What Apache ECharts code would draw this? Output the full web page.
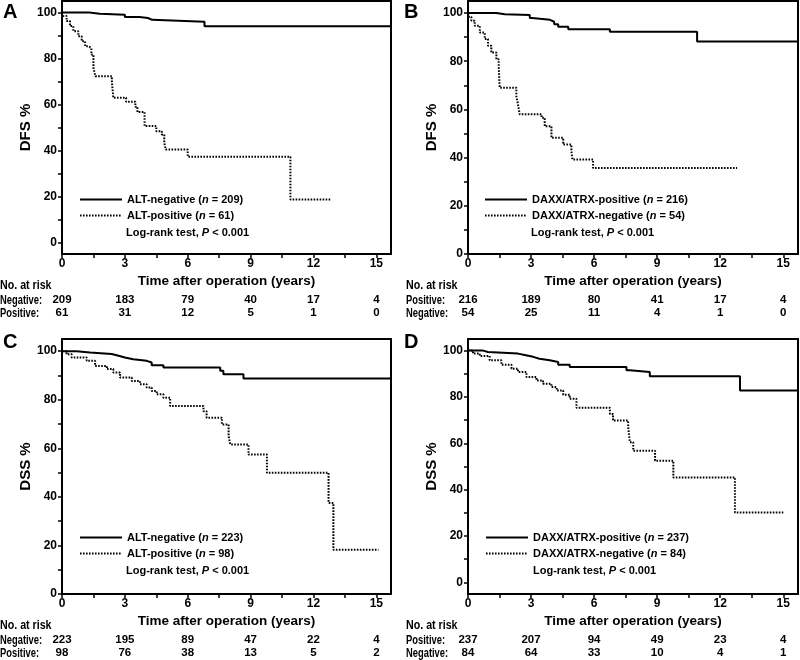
<!DOCTYPE html>
<html><head><meta charset="utf-8">
<script src="https://cdn.jsdelivr.net/npm/echarts@6/dist/echarts.min.js"></script>
<style>html,body{margin:0;padding:0;background:#fff}#c{width:800px;height:660px}</style>
</head><body><div id="c"></div>
<script>
// ---------- data ----------
const xTickValues = [0, 1.5, 3, 4.5, 6, 7.5, 9, 10.5, 12, 13.5, 15];
const xLabelValues = [0, 3, 6, 9, 12, 15];
const yTickValues = [0, 10, 20, 30, 40, 50, 60, 70, 80, 90, 100];
const yLabelValues = [0, 20, 40, 60, 80, 100];

// Panel A (DFS, ALT)
const aNegT = [0, 1.3, 1.8, 3.0, 3.7, 4.1, 4.3, 6.8, 15.7];
const aNegV = [100, 99.5, 99, 98, 97.6, 96.8, 96, 94, 94];
const aPosT = [0, 0.06, 0.22, 0.38, 0.54, 0.78, 0.94, 1.1, 1.26, 1.4, 1.5, 1.59, 2.38, 2.45, 3.06, 3.5, 3.6, 3.94, 4.5, 4.76, 4.88, 4.95, 6.0, 10.9, 12.8];
const aPosV = [100, 98.5, 96.3, 94.1, 91.9, 89.7, 87.5, 85.3, 84.6, 81.7, 76, 72.3, 70.1, 62.9, 61.2, 59, 56.7, 50.6, 48.4, 47, 43.3, 40.4, 37.3, 18.7, 18.7];
// Panel B (DFS, DAXX/ATRX)
const bPosT = [0, 1.35, 1.75, 2.94, 3.05, 3.9, 4.1, 4.29, 4.77, 6.75, 10.9, 15.7];
const bPosV = [100, 99.5, 99.2, 97.9, 97.2, 96.4, 95.4, 94.3, 93.3, 92.2, 88.2, 88.2];
const bNegT = [0, 0.05, 0.16, 0.32, 0.56, 0.8, 0.95, 1.11, 1.35, 1.46, 1.51, 2.3, 2.38, 2.46, 3.5, 3.65, 3.97, 4.53, 4.92, 4.97, 5.95, 12.8];
const bNegV = [100, 98.5, 96.8, 94.7, 91.9, 89.2, 86.4, 83.6, 80.8, 78, 69, 65.5, 62, 58, 56.5, 53, 48.2, 45.4, 42.6, 39.2, 35.7, 35.7];
// Panel C (DSS, ALT)
const cNegT = [0, 0.7, 1.34, 2.37, 2.7, 3.0, 3.4, 4.04, 4.28, 4.84, 7.55, 7.7, 8.66, 15.7];
const cNegV = [100, 99.4, 98.8, 98.1, 97.4, 96.7, 96, 95.3, 94.2, 93.3, 91.9, 90.5, 88.7, 88.7];
const cPosT = [0, 0.22, 0.46, 1.18, 1.58, 2.14, 2.45, 2.77, 3.33, 3.72, 4.04, 4.28, 4.52, 4.84, 5.16, 6.75, 6.9, 7.63, 7.95, 8.03, 8.9, 9.78, 12.72, 12.95, 15.1];
const cPosV = [100, 98.7, 97.4, 96, 93.9, 92.6, 91.2, 89.1, 87.7, 86.4, 85, 83.6, 82.2, 80.8, 77.4, 75.3, 72.6, 69.8, 65, 61.6, 57.4, 49.9, 37.5, 18.2, 18.2];
// Panel D (DSS, DAXX/ATRX)
const dPosT = [0, 0.72, 0.95, 2.38, 2.75, 3.1, 3.4, 3.89, 4.29, 4.84, 7.54, 7.7, 8.65, 12.94, 15.7];
const dPosV = [100, 99.4, 98.7, 98, 97.3, 96.5, 95.8, 95.1, 93.9, 92.9, 91.5, 90.8, 88.9, 82.8, 82.8];
const dNegT = [0, 0.24, 0.56, 1.03, 1.59, 2.07, 2.38, 2.78, 3.26, 3.57, 3.97, 4.22, 4.53, 4.84, 5.16, 6.75, 6.9, 7.62, 7.7, 7.86, 8.9, 9.77, 12.7, 15.0];
const dNegV = [100, 98.7, 97.7, 95.8, 93.9, 92.2, 90.8, 88.6, 87.1, 85.7, 84.3, 82.8, 81, 79.2, 75.3, 72.7, 69.8, 67, 60.5, 56.8, 52.5, 45.3, 30.2, 30.2];

// numbers at risk (at 0,3,6,9,12,15 years)
const riskANeg = [209, 183, 79, 40, 17, 4];
const riskAPos = [61, 31, 12, 5, 1, 0];
const riskBPos = [216, 189, 80, 41, 17, 4];
const riskBNeg = [54, 25, 11, 4, 1, 0];
const riskCNeg = [223, 195, 89, 47, 22, 4];
const riskCPos = [98, 76, 38, 13, 5, 2];
const riskDPos = [237, 207, 94, 49, 23, 4];
const riskDNeg = [84, 64, 33, 10, 4, 1];

// ---------- layout ----------
const FONT = "'Liberation Sans',Arial,sans-serif";
const XMAX = 15.7;

const panels = [
  { letter: 'A', grid: {left: 62, top: 1, width: 329, height: 253}, ymin: -5, yName: 'DFS %',
    names: ['ALT-negative (n = 209)', 'ALT-positive (n = 61)'],
    curves: [[aNegT, aNegV], [aPosT, aPosV]], rowNames: ['Negative:', 'Positive:'], risk: [riskANeg, riskAPos],
    legendLeft: 79, textX: 126, tableX: 0, legendTop: 194, letterX: 3, letterY: 12 },
  { letter: 'B', grid: {left: 468, top: 1, width: 330, height: 253}, ymin: 0, yName: 'DFS %',
    names: ['DAXX/ATRX-positive (n = 216)', 'DAXX/ATRX-negative (n = 54)'],
    curves: [[bPosT, bPosV], [bNegT, bNegV]], rowNames: ['Positive:', 'Negative:'], risk: [riskBPos, riskBNeg],
    legendLeft: 484, textX: 531, tableX: 406, legendTop: 194, letterX: 404, letterY: 12 },
  { letter: 'C', grid: {left: 62, top: 339, width: 329, height: 255}, ymin: 0, yName: 'DSS %',
    names: ['ALT-negative (n = 223)', 'ALT-positive (n = 98)'],
    curves: [[cNegT, cNegV], [cPosT, cPosV]], rowNames: ['Negative:', 'Positive:'], risk: [riskCNeg, riskCPos],
    legendLeft: 79, textX: 126, tableX: 0, legendTop: 532, letterX: 3, letterY: 342 },
  { letter: 'D', grid: {left: 468, top: 339, width: 330, height: 255}, ymin: -5, yName: 'DSS %',
    names: ['DAXX/ATRX-positive (n = 237)', 'DAXX/ATRX-negative (n = 84)'],
    curves: [[dPosT, dPosV], [dNegT, dNegV]], rowNames: ['Positive:', 'Negative:'], risk: [riskDPos, riskDNeg],
    legendLeft: 485, textX: 533, tableX: 406, legendTop: 532, letterX: 404, letterY: 342 }
];

const grids = [], xAxes = [], yAxes = [], series = [], legends = [], graphics = [];
const lineSolid = {color: '#000', width: 2, type: 'solid'};
const lineDot = {color: '#000', width: 2, type: [1.6, 1.4]};

panels.forEach((p, pi) => {
  grids.push(Object.assign({containLabel: false}, p.grid));
  const axisLine = {show: true, onZero: false, lineStyle: {color: '#000', width: 2}};
  xAxes.push({
    gridIndex: pi, type: 'value', min: 0, max: XMAX, position: 'bottom',
    axisLine: axisLine,
    axisTick: {show: true, length: 4, customValues: xTickValues, lineStyle: {color: '#000', width: 1.5}},
    axisLabel: {customValues: xLabelValues, margin: 4, color: '#000', fontFamily: FONT, fontWeight: 'bold', fontSize: 12},
    splitLine: {show: false},
    name: 'Time after operation (years)', nameLocation: 'middle', nameGap: 20,
    nameTextStyle: {color: '#000', fontFamily: FONT, fontWeight: 'bold', fontSize: 13.5}
  });
  xAxes.push({
    gridIndex: pi, type: 'value', min: 0, max: XMAX, position: 'top',
    axisLine: axisLine, axisTick: {show: false}, axisLabel: {show: false}, splitLine: {show: false}
  });
  [34, 47].forEach((off, ri) => {
    const arr = p.risk[ri];
    xAxes.push({
      gridIndex: pi, type: 'value', min: 0, max: XMAX, position: 'bottom', offset: off,
      axisLine: {show: false}, axisTick: {show: false}, splitLine: {show: false},
      axisLabel: {customValues: xLabelValues, margin: 6, color: '#000', fontFamily: FONT, fontWeight: 'bold', fontSize: 11.5,
        formatter: v => { const k = Math.round(v / 3); return String(arr[k]); }}
    });
  });
  yAxes.push({
    gridIndex: pi, type: 'value', min: p.ymin, max: 105, position: 'left',
    axisLine: axisLine,
    axisTick: {show: true, length: 4, customValues: yTickValues, lineStyle: {color: '#000', width: 1.5}},
    axisLabel: {customValues: yLabelValues, margin: 5, color: '#000', fontFamily: FONT, fontWeight: 'bold', fontSize: 12},
    splitLine: {show: false},
    name: p.yName, nameLocation: 'middle', nameGap: 22,
    nameTextStyle: {color: '#000', fontFamily: FONT, fontWeight: 'bold', fontSize: 15}
  });
  yAxes.push({
    gridIndex: pi, type: 'value', min: p.ymin, max: 105, position: 'right',
    axisLine: axisLine, axisTick: {show: false}, axisLabel: {show: false}, splitLine: {show: false}
  });

  p.curves.forEach((c, ci) => {
    series.push({
      name: p.names[ci], type: 'line', xAxisIndex: pi * 4, yAxisIndex: pi * 2,
      data: c[0].map((t, i) => [t, c[1][i]]),
      step: 'end', symbol: 'none', showSymbol: false, clip: true,
      lineStyle: ci === 0 ? lineSolid : lineDot, itemStyle: {color: '#000'},
      animation: false, silent: true
    });
  });

  const rich = {i: {fontStyle: 'italic', fontWeight: 'bold', fontSize: 11, fontFamily: FONT, color: '#000'}};
  legends.push({
    data: p.names, orient: 'vertical', left: p.legendLeft, top: p.legendTop, padding: 0,
    itemWidth: 42, itemHeight: 12, itemGap: 5, selectedMode: false,
    itemStyle: {color: 'rgba(0,0,0,0)', opacity: 0, borderWidth: 0},
    textStyle: {color: '#000', fontFamily: FONT, fontWeight: 'bold', fontSize: 11, rich: rich},
    formatter: name => name.replace('(n =', '({i|n} =')
  });

  graphics.push({
    type: 'text', x: p.textX, y: p.legendTop + 39, silent: true,
    style: {text: 'Log-rank test, {i|P} < 0.001', fill: '#000', fontFamily: FONT, fontWeight: 'bold', fontSize: 11,
      verticalAlign: 'middle', rich: rich}
  });
  graphics.push({
    type: 'text', x: p.letterX, y: p.letterY, silent: true,
    style: {text: p.letter, fill: '#000', fontFamily: FONT, fontWeight: 'bold', fontSize: 20, verticalAlign: 'middle'}
  });
  const axisY = p.grid.top + p.grid.height;
  [['No. at risk', 31, 0.82], [p.rowNames[0], 46, 0.72], [p.rowNames[1], 59, 0.72]].forEach(r => {
    graphics.push({
      type: 'text', x: p.tableX, y: axisY + r[1], scaleX: r[2], silent: true,
      style: {text: r[0], fill: '#000', fontFamily: FONT, fontWeight: 'bold', fontSize: 13, verticalAlign: 'middle'}
    });
  });
});

const chart = echarts.init(document.getElementById('c'), null, {renderer: 'canvas'});
chart.setOption({
  animation: false,
  backgroundColor: '#fff',
  grid: grids, xAxis: xAxes, yAxis: yAxes, series: series, legend: legends, graphic: graphics
});
</script></body></html>
